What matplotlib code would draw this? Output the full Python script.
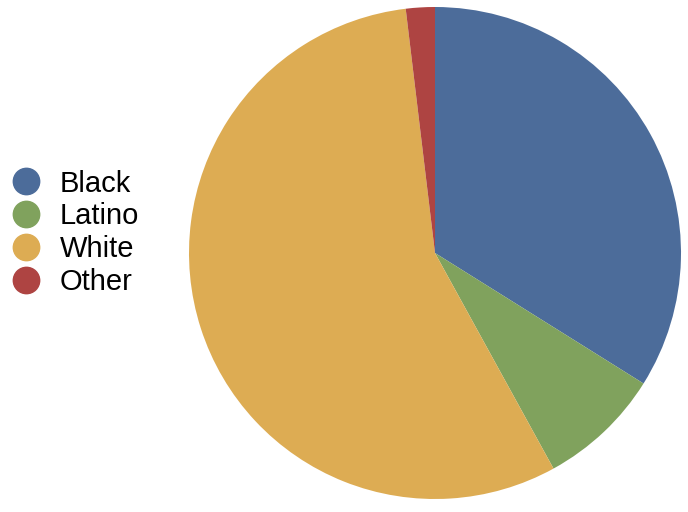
import matplotlib
matplotlib.use("Agg")
from matplotlib import pyplot as plt
from matplotlib.lines import Line2D

# parts du camembert (en %)
groupes = ["Black", "Latino", "White", "Other"]
parts = [33.9, 8.1, 56.1, 1.9]
couleurs = ["#4c6c9a", "#80a25d", "#ddac53", "#ae4442"]

plt.rcParams["font.family"] = ["Liberation Sans", "DejaVu Sans"]

fig = plt.figure(figsize=(6.88, 5.12), dpi=100)
ax = fig.add_axes([(435 - 246) / 688, (512 - 253 - 246) / 512, 492 / 688, 492 / 512])
ax.pie(parts, colors=couleurs, startangle=90, counterclock=False, radius=1,
       wedgeprops={"linewidth": 0})
ax.set_xlim(-1, 1)
ax.set_ylim(-1, 1)
ax.set_aspect("equal")

poignees = [Line2D([0], [0], marker="o", linestyle="", markersize=19,
                   markerfacecolor=c, markeredgecolor=c) for c in couleurs]
fig.legend(poignees, groupes, loc="center left", bbox_to_anchor=(0.0, 0.545),
           frameon=False, fontsize=21, handlelength=1.75, handletextpad=0.3,
           labelspacing=0.17, borderpad=0, borderaxespad=0)

fig.savefig("out.png", dpi=100)
